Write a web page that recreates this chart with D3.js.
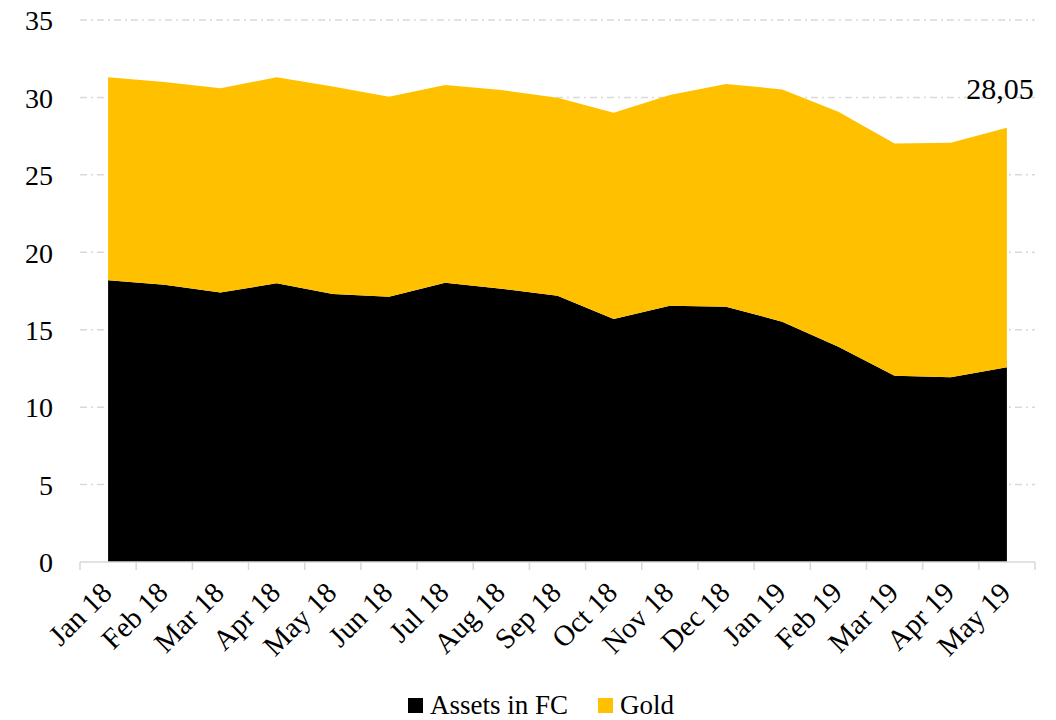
<!DOCTYPE html>
<html>
<head>
<meta charset="utf-8">
<script src="https://cdn.jsdelivr.net/npm/d3@7"></script>
<style>
  body { margin: 0; background: #fff; }
  text { font-family: "Liberation Serif", "DejaVu Serif", serif; fill: #000; }
</style>
</head>
<body>
<div id="chart"></div>
<script>
// Months on the x axis
var months = ["Jan 18", "Feb 18", "Mar 18", "Apr 18", "May 18", "Jun 18", "Jul 18", "Aug 18",
    "Sep 18", "Oct 18", "Nov 18", "Dec 18", "Jan 19", "Feb 19", "Mar 19", "Apr 19", "May 19"];

// Assets in foreign currency (bottom layer)
var assetsFC = [18.2, 17.9, 17.4, 18.0, 17.3, 17.13, 18.04, 17.65, 17.2, 15.69, 16.55, 16.49,
    15.52, 13.9, 12.03, 11.93, 12.57];

// Gold (stacked on top)
var gold = [13.1, 13.1, 13.2, 13.3, 13.4, 12.92, 12.76, 12.83, 12.78, 13.32, 13.61, 14.38,
    15.0, 15.18, 15.0, 15.15, 15.48];

var yTicks = [0, 5, 10, 15, 20, 25, 30, 35];
var lastLabel = "28,05";

var seriesNames = ["Assets in FC", "Gold"];
var colors = ["#000000", "#FFC000"];

// SVG dimensions
var svgWidth = 1056;
var svgHeight = 720;

var margin = { top: 20, right: 21, bottom: 158, left: 80 };
var plotWidth = svgWidth - margin.left - margin.right;
var plotHeight = svgHeight - margin.top - margin.bottom;

var svg = d3.select("#chart")
    .append("svg")
    .attr("width", svgWidth)
    .attr("height", svgHeight);

var chartGroup = svg.append("g")
    .attr("transform", `translate(${margin.left}, ${margin.top})`);

// build table for the stack
var table = months.map(function(m, i) {
    return { month: m, "Assets in FC": assetsFC[i], "Gold": gold[i] };
});
var stacked = d3.stack().keys(seriesNames)(table);

// scales
var xBand = d3.scaleBand()
    .domain(months)
    .range([0, plotWidth]);

var yScale = d3.scaleLinear()
    .domain([0, 35])
    .range([plotHeight, 0]);

var xCenter = d => xBand(d) + xBand.bandwidth() / 2;

// gridlines
chartGroup.append("g")
    .selectAll("line")
    .data(yTicks.filter(t => t > 0))
    .enter()
    .append("line")
    .attr("x1", 0)
    .attr("x2", plotWidth)
    .attr("y1", d => yScale(d))
    .attr("y2", d => yScale(d))
    .attr("stroke", "#d9d9d9")
    .attr("stroke-width", 1.5)
    .attr("stroke-dasharray", "7,4,2,4");

// areas
var area = d3.area()
    .x(d => xCenter(d.data.month))
    .y0(d => yScale(d[0]))
    .y1(d => yScale(d[1]));

chartGroup.selectAll(".layer")
    .data(stacked)
    .enter()
    .append("path")
    .attr("class", "layer")
    .attr("fill", (d, i) => colors[i])
    .attr("d", area);

// y axis labels
var yAxis = d3.axisLeft(yScale)
    .tickValues(yTicks)
    .tickSize(0)
    .tickPadding(27);

var yAxisGroup = chartGroup.append("g").call(yAxis);
yAxisGroup.select(".domain").remove();
yAxisGroup.selectAll("text")
    .style("font-size", "28px")
    .style("font-family", "Liberation Serif, serif")
    .attr("dy", "0.35em");

// x axis line + ticks at band boundaries
chartGroup.append("line")
    .attr("x1", 0)
    .attr("x2", plotWidth)
    .attr("y1", plotHeight)
    .attr("y2", plotHeight)
    .attr("stroke", "#d9d9d9")
    .attr("stroke-width", 1.5);

var boundaries = months.map(m => xBand(m)).concat([plotWidth]);
chartGroup.append("g")
    .selectAll("line")
    .data(boundaries)
    .enter()
    .append("line")
    .attr("x1", d => d)
    .attr("x2", d => d)
    .attr("y1", plotHeight)
    .attr("y2", plotHeight + 8)
    .attr("stroke", "#d9d9d9")
    .attr("stroke-width", 1.5);

// x labels rotated
chartGroup.append("g")
    .selectAll("text")
    .data(months)
    .enter()
    .append("text")
    .attr("text-anchor", "end")
    .attr("transform", d => `translate(${xCenter(d) - 9}, ${plotHeight + 18}) rotate(-45)`)
    .attr("dy", "0.7em")
    .style("font-size", "29px")
    .text(d => d);

// label on the last point
var lastIdx = months.length - 1;
chartGroup.append("text")
    .attr("x", xCenter(months[lastIdx]) - 7)
    .attr("y", yScale(assetsFC[lastIdx] + gold[lastIdx]) - 29)
    .attr("text-anchor", "middle")
    .style("font-size", "30px")
    .text(lastLabel);

// legend
var legend = svg.append("g")
    .attr("transform", "translate(408, 698)");

var legendX = [0, 190];
seriesNames.forEach(function(name, i) {
    var g = legend.append("g").attr("transform", `translate(${legendX[i]}, 0)`);
    g.append("rect")
        .attr("width", 15)
        .attr("height", 15)
        .attr("fill", colors[i]);
    g.append("text")
        .attr("x", 22)
        .attr("y", 16)
        .style("font-size", "27px")
        .text(name);
});
</script>
</body>
</html>
